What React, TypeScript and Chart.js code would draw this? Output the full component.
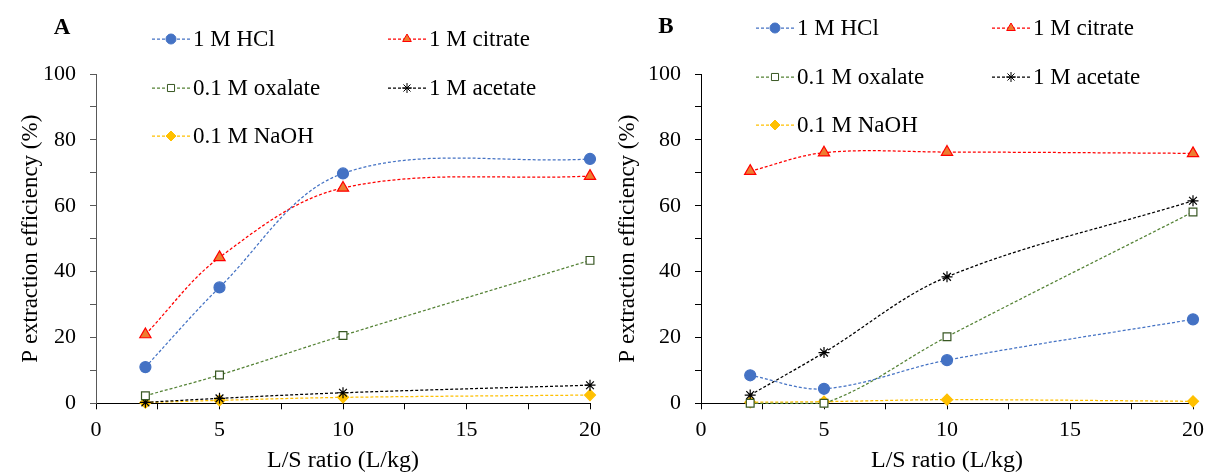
import React, { useEffect, useRef } from 'react';
import { Chart, registerables } from 'chart.js';
import { drawPoint } from 'chart.js/helpers';

Chart.register(...registerables);

// ---------- data ----------
const lsRatio = [2, 5, 10, 20];
const seriesNames = ['1 M HCl', '1 M citrate', '0.1 M oxalate', '1 M acetate', '0.1 M NaOH'];

const hclA = [11.0, 35.2, 69.8, 74.2];
const citrateA = [20.9, 44.3, 65.4, 69.0];
const oxalateA = [2.3, 8.6, 20.6, 43.4];
const acetateA = [0.3, 1.5, 3.2, 5.5];
const naohA = [0.2, 0.9, 1.8, 2.5];

const hclB = [8.5, 4.4, 13.1, 25.5];
const citrateB = [70.5, 76.1, 76.3, 75.9];
const oxalateB = [0.0, 0.0, 20.2, 58.1];
const acetateB = [2.5, 15.4, 38.4, 61.5];
const naohB = [0.3, 0.5, 1.1, 0.6];

const xLabelStep = 5;
const yLabelStep = 20;
const xTitle = 'L/S ratio (L/kg)';
const yTitle = 'P extraction efficiency (%)';
const panelLabels = ['A', 'B'];

// ---------- styles ----------
const FONT = "'Liberation Serif', 'Times New Roman', serif";
const CANVAS_H = 480;
const styles = [
  { line: '#4472C4', point: 'circle', fill: '#4472C4', border: '#4472C4', r: 5.5 },
  { line: '#FF0000', point: 'triangle', fill: '#ED7D31', border: '#FF0000', r: 6.5 },
  { line: '#548235', point: 'rect', fill: '#FFFFFF', border: '#385723', r: 5.5 },
  { line: '#000000', point: 'star', fill: '#000000', border: '#000000', r: 5.5 },
  { line: '#FFC000', point: 'rectRot', fill: '#FFC000', border: '#FFC000', r: 5.5 },
];

function buildDatasets(series: number[][]) {
  return series.map((vals, i) => {
    const s = styles[i];
    return {
      label: seriesNames[i],
      data: lsRatio.map((x, j) => ({ x, y: vals[j] })),
      borderColor: s.line,
      borderWidth: 1.25,
      borderDash: [3, 2],
      tension: 0.35,
      fill: false,
      pointStyle: s.point,
      pointRadius: s.r,
      pointBackgroundColor: s.fill,
      pointBorderColor: s.border,
      pointBorderWidth: 1.2,
      clip: false,
    };
  });
}

const legendPlugin = {
  id: 'panelLegend',
  afterDraw(chart: any, _args: any, opts: any) {
    const ctx = chart.ctx;
    ctx.save();
    ctx.fillStyle = '#000';
    ctx.font = `bold 23px ${FONT}`;
    ctx.textAlign = 'center';
    ctx.textBaseline = 'middle';
    ctx.fillText(opts.label, opts.labelX, opts.labelY);
    ctx.font = `23px ${FONT}`;
    ctx.textAlign = 'left';
    opts.items.forEach((it: any) => {
      const ds = chart.data.datasets[it.index];
      ctx.save();
      ctx.strokeStyle = ds.borderColor;
      ctx.lineWidth = 1.25;
      ctx.setLineDash([3, 2]);
      ctx.beginPath();
      ctx.moveTo(it.x - 19, it.y);
      ctx.lineTo(it.x + 19, it.y);
      ctx.stroke();
      ctx.setLineDash([]);
      ctx.fillStyle = ds.pointBackgroundColor;
      ctx.strokeStyle = ds.pointBorderColor;
      ctx.lineWidth = 1;
      drawPoint(ctx, { pointStyle: ds.pointStyle, radius: 5, borderWidth: 1, rotation: 0 } as any, it.x, it.y);
      ctx.restore();
      ctx.fillStyle = '#000';
      ctx.fillText(seriesNames[it.index], it.x + 22, it.y + 1);
    });
    ctx.restore();
  },
};

function makeConfig(series: number[][], geo: any) {
  return {
    type: 'line' as const,
    data: { datasets: buildDatasets(series) },
    plugins: [legendPlugin],
    options: {
      responsive: false,
      animation: false,
      events: [],
      layout: { padding: geo.padding },
      plugins: {
        legend: { display: false },
        tooltip: { enabled: false },
        panelLegend: geo.legend,
      },
      scales: {
        x: {
          type: 'linear',
          min: 0,
          max: 20,
          afterFit: (s: any) => {
            s.height = CANVAS_H - 403.3;
            s.paddingLeft = 0;
            s.paddingRight = 0;
          },
          ticks: {
            stepSize: 2.5,
            autoSkip: false,
            maxRotation: 0,
            padding: 8,
            color: '#000',
            font: { family: FONT, size: 22 },
            callback: (v: any) => (Number(v) % xLabelStep === 0 ? String(v) : ''),
          },
          grid: { display: true, drawOnChartArea: false, drawTicks: true, tickLength: 6, color: '#000', lineWidth: 1 },
          border: { display: true, color: '#000', width: 1 },
          title: { display: true, text: xTitle, color: '#000', font: { family: FONT, size: 24 }, padding: { top: 0, bottom: 5 } },
        },
        y: {
          type: 'linear',
          min: 0,
          max: 100,
          afterFit: (s: any) => {
            s.width = geo.yWidth;
            s.paddingTop = 0;
            s.paddingBottom = 0;
          },
          ticks: {
            stepSize: 10,
            autoSkip: false,
            padding: 14,
            color: '#000',
            font: { family: FONT, size: 22 },
            callback: (v: any) => (Number(v) % yLabelStep === 0 ? String(v) : ''),
          },
          grid: { display: true, drawOnChartArea: false, drawTicks: true, tickLength: 6, color: geo.yColor, lineWidth: 1 },
          border: { display: true, color: geo.yColor, width: 1 },
          title: { display: true, text: yTitle, color: '#000', font: { family: FONT, size: 23 }, padding: 0 },
        },
      },
    },
  };
}

const geoA = {
  padding: { left: 17, right: 617, top: 74, bottom: 0 },
  yWidth: 79,
  yColor: '#595959',
  legend: {
    label: panelLabels[0], labelX: 62, labelY: 28,
    items: [
      { index: 0, x: 171, y: 39 },
      { index: 1, x: 407, y: 39 },
      { index: 2, x: 171, y: 88 },
      { index: 3, x: 407, y: 88 },
      { index: 4, x: 171, y: 136 },
    ],
  },
};

const geoB = {
  padding: { left: 614, right: 14, top: 74, bottom: 0 },
  yWidth: 87,
  yColor: '#000',
  legend: {
    label: panelLabels[1], labelX: 666, labelY: 27,
    items: [
      { index: 0, x: 775, y: 28 },
      { index: 1, x: 1011, y: 28 },
      { index: 2, x: 775, y: 77 },
      { index: 3, x: 1011, y: 77 },
      { index: 4, x: 775, y: 125 },
    ],
  },
};

export default function App() {
  const refA = useRef<HTMLCanvasElement>(null);
  const refB = useRef<HTMLCanvasElement>(null);

  useEffect(() => {
    const a = new Chart(refA.current as HTMLCanvasElement, makeConfig([hclA, citrateA, oxalateA, acetateA, naohA], geoA) as any);
    const b = new Chart(refB.current as HTMLCanvasElement, makeConfig([hclB, citrateB, oxalateB, acetateB, naohB], geoB) as any);
    return () => { a.destroy(); b.destroy(); };
  }, []);

  const cs: React.CSSProperties = { position: 'absolute', left: 0, top: 0, width: 1207, height: CANVAS_H };
  return (
    <div style={{ position: 'absolute', left: 0, top: 0, width: 1207, height: 472, overflow: 'hidden', background: '#fff' }}>
      <canvas ref={refA} width={1207} height={CANVAS_H} style={cs} />
      <canvas ref={refB} width={1207} height={CANVAS_H} style={cs} />
    </div>
  );
}
